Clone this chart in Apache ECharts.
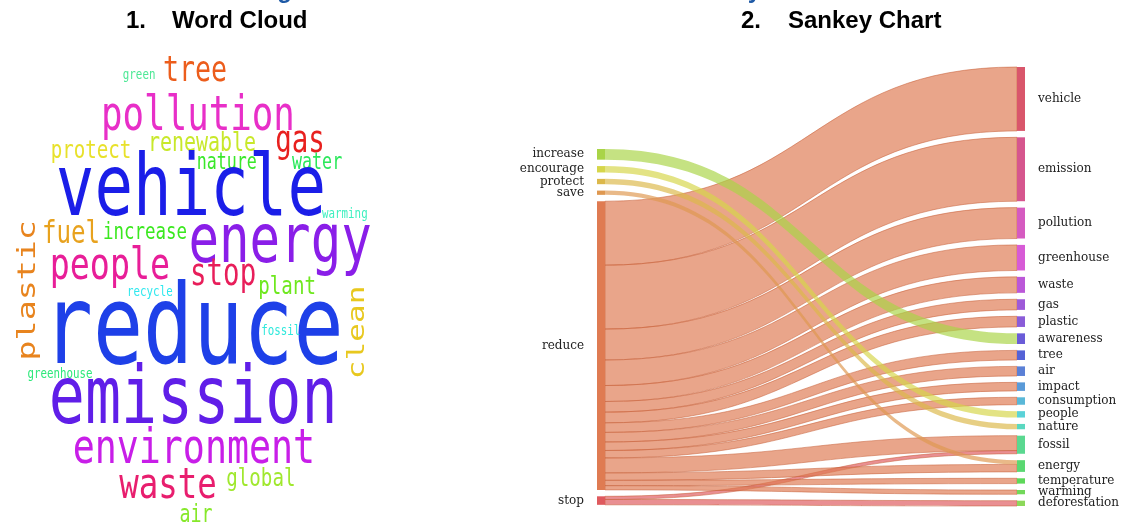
<!DOCTYPE html>
<html>
<head>
<meta charset="utf-8">
<script src="https://cdn.jsdelivr.net/npm/echarts@6/dist/echarts.min.js"></script>
<style>
  html, body { margin: 0; padding: 0; background: #fff; }
  #main { width: 1129px; height: 523px; }
</style>
</head>
<body>
<div id="main"></div>
<script>
  // ---- word cloud data ----
  var words = ['green', 'tree', 'pollution', 'gas', 'renewable', 'protect', 'nature', 'water', 'vehicle',
    'warming', 'energy', 'fuel', 'increase', 'plastic', 'people', 'stop', 'plant', 'clean', 'reduce',
    'recycle', 'fossil', 'greenhouse', 'emission', 'environment', 'waste', 'global', 'air']
  // relative frequency, reduce = 100
  var wordWeights = [13, 32, 43, 33, 24, 23, 20, 20, 77,
    13, 61, 29, 21, 30, 40, 33, 23, 28, 100,
    13, 13, 13, 72, 44, 39, 23, 22]

  // ---- sankey data ----
  var sourceNames = ['increase', 'encourage', 'protect', 'save', 'reduce', 'stop']
  var targetNames = ['vehicle', 'emission', 'pollution', 'greenhouse', 'waste', 'gas', 'plastic', 'awareness',
    'tree', 'air', 'impact', 'consumption', 'people', 'nature', 'fossil', 'energy', 'temperature',
    'warming', 'deforestation']
  var linkFrom = ['reduce', 'reduce', 'reduce', 'reduce', 'reduce', 'reduce', 'reduce', 'increase',
    'reduce', 'reduce', 'reduce', 'reduce', 'encourage', 'protect', 'reduce', 'stop', 'reduce', 'save',
    'reduce', 'reduce', 'stop']
  var linkTo = ['vehicle', 'emission', 'pollution', 'greenhouse', 'waste', 'gas', 'plastic', 'awareness',
    'tree', 'air', 'impact', 'consumption', 'people', 'nature', 'fossil', 'fossil', 'energy', 'energy',
    'temperature', 'warming', 'deforestation']
  var linkValue = [60, 60, 29, 24, 15, 10, 10, 10, 9, 9, 8, 7, 6, 5, 14, 3, 7, 4, 5, 4, 5]

  // ---- styling / layout (not data) ----
  var wordColors = ['#4ee896', '#ec5d1c', '#e82fc8', '#e8201e', '#c8e82a', '#e8e12a', '#3ae82a', '#2ae85a', '#1b1ee8',
    '#3ef0c0', '#8a1ee8', '#e8a21e', '#3ae81e', '#e8841e', '#e81e98', '#e81e5a', '#6ee81e', '#e8c81e', '#1e40e8',
    '#2ee8ee', '#2ee8dc', '#2ee87a', '#601ee8', '#c81ee8', '#e81e6e', '#a0e82e', '#86e82a']
  // position of each word inside the cloud box (0-100), and whether it's turned upright
  var cloudSpots = [[34.9, 5.4, 0], [50.0, 4.5, 0], [50.8, 14.3, 0], [78.4, 19.6, 0], [51.9, 19.8, 0],
    [21.9, 21.4, 0], [58.6, 23.9, 0], [83.0, 23.9, 0], [48.9, 30.2, 0],
    [90.5, 34.7, 0], [73.0, 41.2, 0], [16.5, 39.0, 0], [36.5, 38.7, 0], [5.0, 50.8, 1],
    [27.0, 45.9, 0], [57.6, 47.6, 0], [74.9, 50.2, 0], [94.0, 59.7, 1], [49.5, 60.0, 0],
    [37.8, 51.3, 0], [73.2, 59.4, 0], [13.5, 68.5, 0], [49.5, 74.5, 0], [49.7, 84.6, 0],
    [42.7, 92.4, 0], [67.8, 90.8, 0], [50.3, 98.4, 0]]
  var FONT_PER_WEIGHT = 1.11
  var SQUASH = 0.75 // the cloud picture is squeezed sideways

  var nodeColors = {
    increase: '#a9d447', encourage: '#d6d64a', protect: '#dcb84a', save: '#df9850', reduce: '#df7b52', stop: '#df5a5e',
    vehicle: '#d9566b', emission: '#d6568e', pollution: '#d55bc0', greenhouse: '#d75bd6', waste: '#bb58d8',
    gas: '#9e5ad8', plastic: '#8a5cd8', awareness: '#6a5cd8', tree: '#5562d6', air: '#5b80d6', impact: '#5a9ad8',
    consumption: '#5ab8d8', people: '#5ad2d8', nature: '#5ad8c0', fossil: '#5ad890', energy: '#5ad872',
    temperature: '#5ed85a', warming: '#72d85a', deforestation: '#8cd85a'
  }
  var spacerValue = 71 // empty room above the left column

  var labelFont = 'DejaVu Serif'
  var nodes = [{
    name: ' ', value: spacerValue,
    itemStyle: { color: 'rgba(0,0,0,0)' },
    label: { show: false }
  }]
  sourceNames.forEach(function (n) {
    nodes.push({ name: n, itemStyle: { color: nodeColors[n] }, label: { position: 'left' } })
  })
  targetNames.forEach(function (n) {
    nodes.push({ name: n, itemStyle: { color: nodeColors[n] }, label: { position: 'right' } })
  })
  var links = linkFrom.map(function (s, i) {
    var edge = (s === 'reduce' || s === 'stop')
    return {
      source: s,
      target: linkTo[i],
      value: linkValue[i],
      lineStyle: {
        borderColor: edge ? '#c8603a' : 'rgba(0,0,0,0)',
        borderWidth: edge ? 0.8 : 0
      }
    }
  })

  var cloudData = words.map(function (w, i) {
    return [cloudSpots[i][0], cloudSpots[i][1], wordWeights[i]]
  })

  var chart = echarts.init(document.getElementById('main'))
  var heading = 'bold 24px "Liberation Sans", Arial, sans-serif'
  chart.setOption({
    animation: false,
    backgroundColor: '#fff',
    graphic: [
      // page title above, only its lowest edge shows in the crop
      { type: 'text', left: 256, top: -21, style: { text: 'Figure: Student Data Visualization Summary', font: heading, fill: '#1f5aa6' } },
      { type: 'text', left: 126, top: 9, style: { text: '1.', font: heading, fill: '#000' } },
      { type: 'text', left: 172, top: 9, style: { text: 'Word Cloud', font: heading, fill: '#000' } },
      { type: 'text', left: 741, top: 9, style: { text: '2.', font: heading, fill: '#000' } },
      { type: 'text', left: 788, top: 9, style: { text: 'Sankey Chart', font: heading, fill: '#000' } }
    ],
    grid: { left: 10, top: 50, width: 370, height: 475 },
    xAxis: { type: 'value', min: 0, max: 100, show: false },
    yAxis: { type: 'value', min: 0, max: 100, inverse: true, show: false },
    series: [
      {
        type: 'custom',
        coordinateSystem: 'cartesian2d',
        silent: true,
        data: cloudData,
        encode: { x: 0, y: 1 },
        renderItem: function (params, api) {
          var i = params.dataIndex
          var p = api.coord([api.value(0), api.value(1)])
          return {
            type: 'group',
            x: p[0],
            y: p[1],
            scaleX: SQUASH,
            children: [{
              type: 'text',
              rotation: cloudSpots[i][2] ? Math.PI / 2 : 0,
              style: {
                text: words[i],
                fontSize: api.value(2) * FONT_PER_WEIGHT,
                fontFamily: 'DejaVu Sans Mono',
                fill: wordColors[i],
                align: 'center',
                verticalAlign: 'middle'
              }
            }]
          }
        }
      },
      {
        type: 'sankey',
        left: 597,
        right: 104,
        top: 67,
        bottom: 17,
        nodeWidth: 8,
        nodeGap: 6.4,
        nodeAlign: 'left',
        layoutIterations: 0,
        draggable: false,
        silent: true,
        data: nodes,
        links: links,
        itemStyle: { borderWidth: 0 },
        lineStyle: { color: 'source', opacity: 0.68, curveness: 0.5 },
        label: {
          color: '#222',
          fontFamily: labelFont,
          fontSize: 12,
          distance: 13
        },
        emphasis: { disabled: true }
      }
    ]
  })
</script>
</body>
</html>
